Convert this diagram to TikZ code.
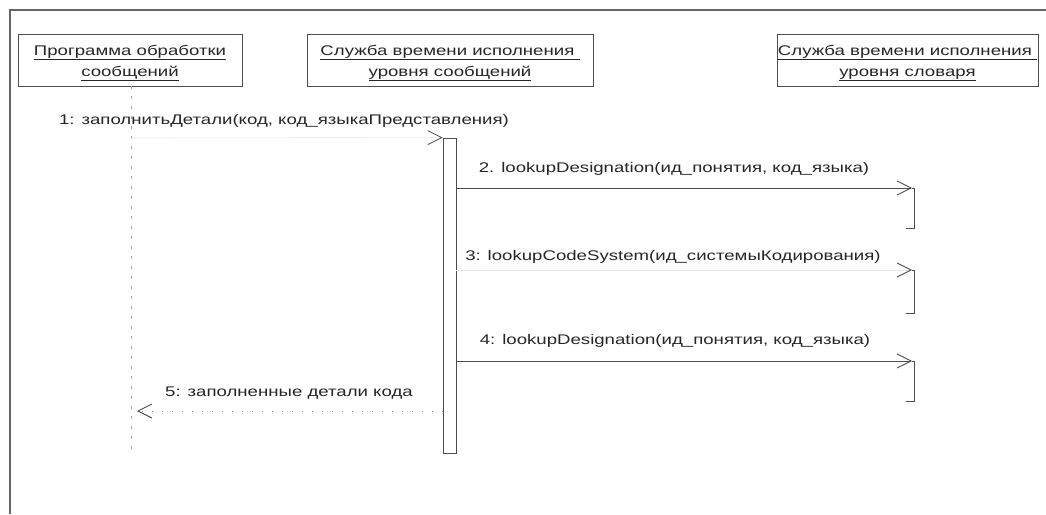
\documentclass[tikz,border=0pt]{standalone}
\usepackage{fontspec}
\setmainfont{Liberation Sans}[FakeStretch=1.33]
\usetikzlibrary{arrows.meta}
\tikzset{
  frame/.style={draw=black!60, line width=1.4pt},
  obj/.style={draw=black!70, line width=0.8pt, minimum width=224pt, minimum height=52pt, inner sep=0pt},
  objtext/.style={align=center, inner sep=0pt, text=black!85},
  line/.style={draw=black!70, line width=0.8pt},
  lifeline/.style={draw=black!35, line width=0.6pt, dash pattern=on 3pt off 7pt},
  act/.style={draw=black!70, line width=0.8pt, minimum width=13pt, inner sep=0pt},
  msg/.style={line, -{Straight Barb[length=14pt, width=14pt, line width=0.8pt]}},
  faintmsg/.style={draw=black!10, line width=0.6pt, -{Straight Barb[length=14pt, width=14pt, line width=0.8pt, black!70]}},
  retmsg/.style={draw=black!45, line width=0.8pt, dash pattern=on 1pt off 9pt, -{Straight Barb[length=14pt, width=14pt, line width=0.8pt, black!75]}},
  lbl/.style={inner sep=0pt, text=black!85},
}
\begin{document}
\begin{tikzpicture}[x=1pt, y=-1pt, font=\fontsize{14}{21}\selectfont]
\useasboundingbox (0,0) rectangle (1046,514);
\draw[frame] (10,514) -- (10,10) -- (1046,10);

\node[obj] (p1) at (130,60) {};
\node[objtext] (p1t) at (130,63) {\underline{Программа обработки}\\\underline{сообщений}};
\node[obj, minimum width=286pt] (p2) at (450,60) {};
\node[objtext] (p2t) at (450,63) {\underline{Служба времени исполнения\ }\\\underline{уровня сообщений}};
\node[obj, minimum width=261pt] (p3) at (907.5,60) {};
\node[objtext] (p3t) at (907.5,63) {\underline{Служба времени исполнения\ }\\\underline{уровня словаря}};

% lifeline of the first object
\coordinate (l1end) at (131,455);
\draw[lifeline] (p1.south -| l1end) -- (l1end);

% activation of the second object
\node[act, minimum height=315pt] (a2) at (449.5,295.5) {};

% message 1
\coordinate (m1s) at (131,138);
\draw[faintmsg] (m1s) -- (a2.north west);
\node[lbl] (t1) at (284,121) {1: заполнитьДетали(код, код\_языкаПредставления)};

% message 2
\coordinate (m2s) at (456,188);
\coordinate (m2e) at (912,188);
\draw[msg] (m2s) -- (m2e);
\draw[line] (m2e) -- (914,188) -- (914,228) -- (906,228);
\node[lbl] (t2) at (674,169) {2. lookupDesignation(ид\_понятия, код\_языка)};

% message 3
\coordinate (m3s) at (456,270);
\coordinate (m3e) at (912,270);
\draw[faintmsg] (m3s) -- (m3e);
\draw[line] (m3e) -- (914,270) -- (914,313) -- (906,313);
\node[lbl] (t3) at (673,257) {3: lookupCodeSystem(ид\_системыКодирования)};

% message 4
\coordinate (m4s) at (456,361);
\coordinate (m4e) at (912,361);
\draw[msg] (m4s) -- (m4e);
\draw[line] (m4e) -- (914,361) -- (914,401) -- (906,401);
\node[lbl] (t4) at (675,341) {4: lookupDesignation(ид\_понятия, код\_языка)};

% message 5 (return)
\coordinate (m5e) at (137,411);
\draw[retmsg] (a2.west |- m5e) -- (m5e);
\node[lbl] (t5) at (289,393) {5: заполненные детали кода};
\end{tikzpicture}
\end{document}
